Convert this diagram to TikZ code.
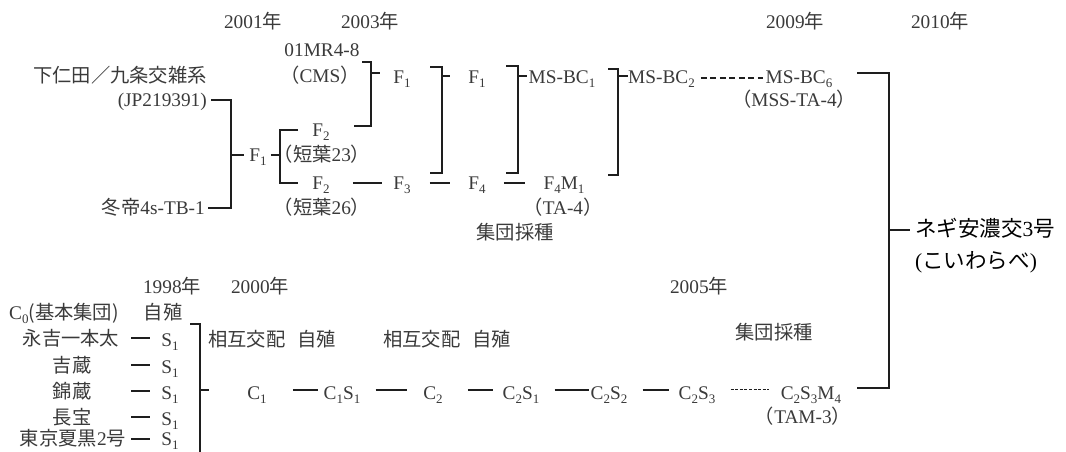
\documentclass[tikz,border=0pt]{standalone}
\usepackage{fontspec}
\setmainfont{Liberation Serif}
\newfontfamily\jp{Noto Sans CJK JP}[Scale=1.0]
\newcommand\J[1]{{\jp #1}}
\newcommand\subs[1]{\raisebox{-0.2em}{\fontsize{13}{13}\selectfont #1}}
\usetikzlibrary{calc}
\definecolor{txt}{HTML}{3A3A3A}
\definecolor{ln}{HTML}{1E1E1E}
\begin{document}
\begin{tikzpicture}[x=1pt,y=-1pt,
  every node/.style={inner sep=0pt, text height=13pt, text depth=0pt, text=txt,
    font=\fontsize{19.3}{21}\selectfont},
  conn/.style={draw=ln, line width=1.6pt},
  dashconn/.style={draw=ln, line width=1.3pt, dash pattern=on 6pt off 3.5pt},
  dotconn/.style={draw=ln, line width=1pt, dash pattern=on 3pt off 1.6pt},
  big/.style={text=black, font=\fontsize{21.5}{24}\selectfont}]
\fill[white] (0,0) rectangle (1066,452);
\useasboundingbox (0,0) rectangle (1066,452);

% ---------- top: years ----------
\node (y2001) at (253,22) {2001\J{年}};
\node (y2003) at (370,22) {2003\J{年}};
\node (y2009) at (795,22) {2009\J{年}};
\node (y2010) at (940,22) {2010\J{年}};

% ---------- top: nodes ----------
\node (mr) at (322,50) {01MR4-8};
\node (cms) at (320,76) {\J{（}CMS\J{）}};
\node (shim) at (120,76) {\J{下仁田／九条交雑系}};
\node[anchor=east] (jp) at (207,100) {(JP219391)};
\node[anchor=east] (tou) at (205,208) {\J{冬帝}4s-TB-1};
\node (f1a) at (258,155) {F\subs{1}};
\node (f2a) at (321,130) {F\subs{2}};
\node (t23) at (322,155) {\J{（短葉}23\J{）}};
\node (f2b) at (321,183) {F\subs{2}};
\node (t26) at (322,208) {\J{（短葉}26\J{）}};
\node (f1b) at (402,77) {F\subs{1}};
\node (f1c) at (477,77) {F\subs{1}};
\node (f3) at (402,183) {F\subs{3}};
\node (f4) at (477,183) {F\subs{4}};
\node (msbc1) at (562,77) {MS-BC\subs{1}};
\node (f4m1) at (564,183) {F\subs{4}M\subs{1}};
\node (ta4) at (563,208) {\J{（}TA-4\J{）}};
\node[anchor=west] (msbc2) at (628,77) {MS-BC\subs{2}};
\node (msbc6) at (799,77) {MS-BC\subs{6}};
\node (mssta4) at (794,100) {\J{（}MSS-TA-4\J{）}};
\node (shudan1) at (515,233) {\J{集団採種}};
\node[anchor=west, big] (negi) at (915,230) {\J{ネギ安濃交}3\J{号}};
\node[anchor=west, big] (koi) at (915,262) {(\J{こいわらべ})};

% ---------- top: connectors ----------
\coordinate (k1) at (231,155);
\draw[conn] ([xshift=4pt]jp.east) -| (k1) |- ([xshift=3pt]tou.east);
\draw[conn] (k1) -- ([xshift=-5pt]f1a.west);

\coordinate (k2) at (280,155);
\draw[conn] ([xshift=4pt]f1a.east) -- (k2);
\draw[conn] ([xshift=-14pt]f2a.west) -| (k2) |- ([xshift=-14pt]f2b.west);

\coordinate (k3t) at (362,62);
\coordinate (k3) at (371,73);
\coordinate (k3b) at (354,126);
\draw[conn] (k3t) -| (k3) |- (k3b);
\draw[conn] (k3) -- ++(9,0);

\coordinate (k4t) at (430,67);
\coordinate (k4) at (442,76);
\coordinate (k4b) at (430,173);
\draw[conn] (k4t) -| (k4) |- (k4b);
\draw[conn] (k4) -- ++(8,0);

\coordinate (k5t) at (506,66);
\coordinate (k5) at (518,76);
\coordinate (k5b) at (506,173);
\draw[conn] (k5t) -| (k5) |- (k5b);
\draw[conn] (k5) -- ([xshift=-2pt,yshift=1pt]msbc1.west);

\coordinate (k6t) at (608,69);
\coordinate (k6) at (618,76);
\coordinate (k6b) at (608,175);
\draw[conn] (k6t) -| (k6) |- (k6b);
\draw[conn] (k6) -- ([yshift=1pt]msbc2.west);

\draw[conn] ([xshift=23pt]f2b.east) -- ([xshift=-11pt]f3.west);
\draw[conn] ([xshift=19pt]f3.east) -- ([xshift=-18pt]f4.west);
\draw[conn] ([xshift=18pt]f4.east) -- ([xshift=-18pt]f4m1.west);
\draw[dashconn] ([xshift=6pt,yshift=-1pt]msbc2.east) -- ([xshift=-3pt,yshift=-1pt]msbc6.west);

\coordinate (k7t) at (857,73);
\coordinate (k7) at (889,230);
\coordinate (k7b) at (857,388);
\draw[conn] (k7t) -| (k7) |- (k7b);
\draw[conn] (k7) -- ([xshift=-5pt]negi.west);

% ---------- bottom: labels ----------
\node (y1998) at (172,287) {1998\J{年}};
\node (y2000) at (260,287) {2000\J{年}};
\node (y2005) at (699,287) {2005\J{年}};
\node[anchor=west] (c0) at (9,313) {C\subs{0}\J{(基本集団)}};
\node (ji0) at (163,313) {\J{自殖}};
\node (v1) at (71,339) {\J{永吉一本太}};
\node (v2) at (72,366) {\J{吉蔵}};
\node (v3) at (72,392) {\J{錦蔵}};
\node (v4) at (72,418) {\J{長宝}};
\node (v5) at (73,439) {\J{東京夏黒}2\J{号}};
\node (s1) at (170,340) {S\subs{1}};
\node (s2) at (170,367) {S\subs{1}};
\node (s3) at (170,393) {S\subs{1}};
\node (s4) at (170,419) {S\subs{1}};
\node (s5) at (170,439) {S\subs{1}};
\foreach \s in {s1,s2,s3,s4}
  \draw[conn] ([xshift=-30pt,yshift=2pt]\s.west) -- ([xshift=-11pt,yshift=2pt]\s.west);
\draw[conn] ([xshift=-30pt,yshift=0pt]s5.west) -- ([xshift=-11pt,yshift=0pt]s5.west);

\coordinate (k8t) at (190,324);
\coordinate (k8) at (200,390);
\coordinate (k8b) at (200,452);
\draw[conn] (k8t) -| (k8) -- (k8b);
\draw[conn] (k8) -- ++(9,0);

\node (sogo1) at (272,340) {\J{相互交配\hspace{0.6em}自殖}};
\node (sogo2) at (447,340) {\J{相互交配\hspace{0.6em}自殖}};
\node (shudan2) at (774,333) {\J{集団採種}};

\node (c1) at (257,393) {C\subs{1}};
\node (c1s1) at (342,393) {C\subs{1}S\subs{1}};
\node (c2) at (433,393) {C\subs{2}};
\node (c2s1) at (521,393) {C\subs{2}S\subs{1}};
\node (c2s2) at (609,393) {C\subs{2}S\subs{2}};
\node (c2s3) at (697,393) {C\subs{2}S\subs{3}};
\node (c2s3m4) at (811,393) {C\subs{2}S\subs{3}M\subs{4}};
\node (tam3) at (803,417) {\J{（}TAM-3\J{）}};

\draw[conn] ([xshift=26pt,yshift=3pt]c1.east) -- ([xshift=-5pt,yshift=3pt]c1s1.west);
\draw[conn] ([xshift=15pt,yshift=3pt]c1s1.east) -- ([xshift=-16pt,yshift=3pt]c2.west);
\draw[conn] ([xshift=25pt,yshift=3pt]c2.east) -- ([xshift=-10pt,yshift=3pt]c2s1.west);
\draw[conn] ([xshift=15pt,yshift=3pt]c2s1.east) -- ([xshift=-2pt,yshift=3pt]c2s2.west);
\draw[conn] ([xshift=15pt,yshift=3pt]c2s2.east) -- ([xshift=-10pt,yshift=3pt]c2s3.west);
\draw[dotconn] ([xshift=15pt,yshift=4pt]c2s3.east) -- ([xshift=-12pt,yshift=4pt]c2s3m4.west);
\end{tikzpicture}
\end{document}
